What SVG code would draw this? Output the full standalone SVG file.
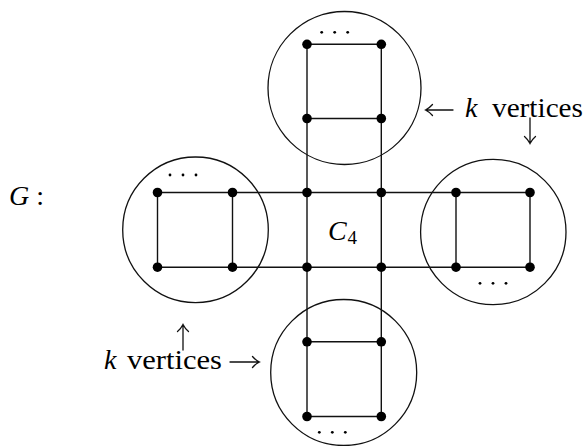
<svg xmlns="http://www.w3.org/2000/svg" width="586" height="446" viewBox="0 0 586 446">
<style>
.edge{stroke:#111;stroke-width:1.4;fill:none}
.ring{stroke:#111;stroke-width:1.3;fill:none}
.v{fill:#000}
.dot{fill:#000}
.arrow{stroke:#111;stroke-width:1.3;fill:none;stroke-linecap:round}
.txt{font-family:"Liberation Serif","Times New Roman","DejaVu Serif",serif;font-size:28px;fill:#000}
.it{font-style:italic}
.sub{font-size:19px}
</style>
<rect width="586" height="446" fill="#fff"/>
<g id="clusters">
<circle id="ring-top" class="ring" cx="344.5" cy="88" r="76.5"/>
<circle id="ring-left" class="ring" cx="195.5" cy="229.8" r="72.8"/>
<circle id="ring-right" class="ring" cx="493.3" cy="232" r="72.7"/>
<circle id="ring-bottom" class="ring" cx="343.7" cy="372.5" r="73"/>
</g>
<g id="connectors">
<line class="edge" x1="307" y1="44.3" x2="307" y2="416.5"/>
<line class="edge" x1="381.3" y1="44.3" x2="381.3" y2="416.5"/>
<line class="edge" x1="157.5" y1="192.5" x2="530" y2="192.5"/>
<line class="edge" x1="157.5" y1="267.2" x2="530" y2="267.2"/>
<line class="edge" x1="307" y1="44.3" x2="381.3" y2="44.3"/>
<line class="edge" x1="307" y1="118.5" x2="381.3" y2="118.5"/>
<line class="edge" x1="307" y1="341.8" x2="381.3" y2="341.8"/>
<line class="edge" x1="307" y1="416.5" x2="381.3" y2="416.5"/>
<line class="edge" x1="157.5" y1="192.5" x2="157.5" y2="267.2"/>
<line class="edge" x1="232.5" y1="192.5" x2="232.5" y2="267.2"/>
<line class="edge" x1="456" y1="192.5" x2="456" y2="267.2"/>
<line class="edge" x1="530" y1="192.5" x2="530" y2="267.2"/>
</g>
<g id="vertices">
<g id="t1"><circle class="v" cx="307" cy="44.3" r="4.8"/></g>
<g id="t2"><circle class="v" cx="381.3" cy="44.3" r="4.8"/></g>
<g id="t3"><circle class="v" cx="307" cy="118.5" r="4.8"/></g>
<g id="t4"><circle class="v" cx="381.3" cy="118.5" r="4.8"/></g>
<g id="c1"><circle class="v" cx="307" cy="192.5" r="4.8"/></g>
<g id="c2"><circle class="v" cx="381.3" cy="192.5" r="4.8"/></g>
<g id="c3"><circle class="v" cx="307" cy="267.2" r="4.8"/></g>
<g id="c4"><circle class="v" cx="381.3" cy="267.2" r="4.8"/></g>
<g id="l1"><circle class="v" cx="157.5" cy="192.5" r="4.8"/></g>
<g id="l2"><circle class="v" cx="232.5" cy="192.5" r="4.8"/></g>
<g id="l3"><circle class="v" cx="157.5" cy="267.2" r="4.8"/></g>
<g id="l4"><circle class="v" cx="232.5" cy="267.2" r="4.8"/></g>
<g id="r1"><circle class="v" cx="456" cy="192.5" r="4.8"/></g>
<g id="r2"><circle class="v" cx="530" cy="192.5" r="4.8"/></g>
<g id="r3"><circle class="v" cx="456" cy="267.2" r="4.8"/></g>
<g id="r4"><circle class="v" cx="530" cy="267.2" r="4.8"/></g>
<g id="b1"><circle class="v" cx="307" cy="341.8" r="4.8"/></g>
<g id="b2"><circle class="v" cx="381.3" cy="341.8" r="4.8"/></g>
<g id="b3"><circle class="v" cx="307" cy="416.5" r="4.8"/></g>
<g id="b4"><circle class="v" cx="381.3" cy="416.5" r="4.8"/></g>
</g>
<g id="ellipses">
<circle class="dot" cx="321.7" cy="32.3" r="1.4"/><circle class="dot" cx="334.7" cy="32.3" r="1.4"/><circle class="dot" cx="347.7" cy="32.3" r="1.4"/>
<circle class="dot" cx="170" cy="175" r="1.4"/><circle class="dot" cx="183" cy="175" r="1.4"/><circle class="dot" cx="196" cy="175" r="1.4"/>
<circle class="dot" cx="480" cy="283.3" r="1.4"/><circle class="dot" cx="493" cy="283.3" r="1.4"/><circle class="dot" cx="506" cy="283.3" r="1.4"/>
<circle class="dot" cx="319.3" cy="432.3" r="1.4"/><circle class="dot" cx="332.3" cy="432.3" r="1.4"/><circle class="dot" cx="345.3" cy="432.3" r="1.4"/>
</g>
<g id="pointers">
<path class="arrow" d="M530,118 V143 M524.5,136.5 Q528,139.5 530,143.5 Q532,139.5 535.5,136.5"/>
<path class="arrow" d="M183,350 V325 M177.5,331.5 Q181,328.5 183,324.5 Q185,328.5 188.5,331.5"/>
<path class="arrow" d="M453,110 H426 M432.5,104.5 Q429.5,108 425.5,110 Q429.5,112 432.5,115.5"/>
<path class="arrow" d="M230,362 H259 M252.5,356.5 Q255.5,360 259.5,362 Q255.5,364 252.5,367.5"/>
</g>
<g id="labels">
<text class="txt" x="9" y="205"><tspan class="it">G</tspan> :</text>
<text class="txt it" x="328" y="240">C</text>
<text class="txt sub" x="347.5" y="244">4</text>
<text class="txt it" x="465" y="117">k</text>
<text class="txt" x="492" y="117" textLength="91" lengthAdjust="spacingAndGlyphs">vertices</text>
<text class="txt it" x="104" y="369">k</text>
<text class="txt" x="127" y="369" textLength="95" lengthAdjust="spacingAndGlyphs">vertices</text>
</g>
</svg>
